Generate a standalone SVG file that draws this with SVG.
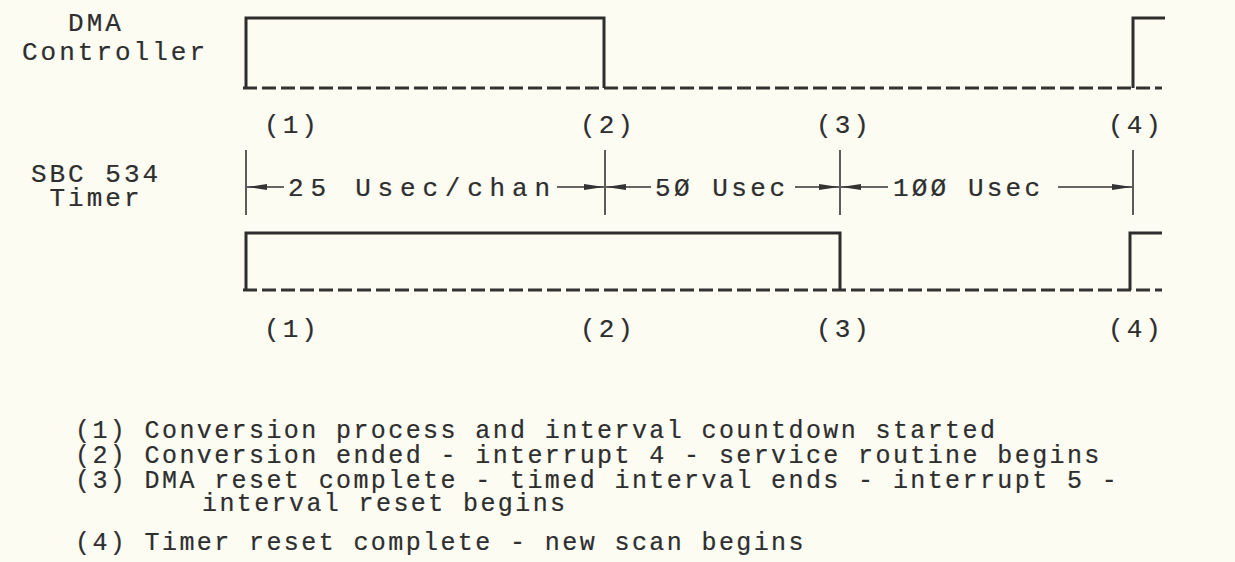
<svg xmlns="http://www.w3.org/2000/svg" width="1235" height="562" viewBox="0 0 1235 562">
<defs>
<style>
text{font-family:"Liberation Mono","DejaVu Sans Mono",monospace;fill:#2e2e2e;stroke:#2e2e2e;stroke-width:0.2}
.lbl{font-size:26px;letter-spacing:3px}
.leg{font-size:25px;letter-spacing:2.4px}
.sig{fill:none;stroke:#2e2e2e;stroke-width:3}
.base{fill:none;stroke:#333;stroke-width:3;stroke-dasharray:14 5}
.tick{stroke:#333;stroke-width:1.6}
.dim{stroke:#333;stroke-width:1.6;marker-end:url(#ah)}
</style>
<marker id="ah" markerUnits="userSpaceOnUse" markerWidth="22" markerHeight="8" refX="20" refY="4" orient="auto">
<path d="M0,1 L20,4 L0,7 Z" fill="#333"/>
</marker>
</defs>
<rect width="1235" height="562" fill="#fcfcf3"/>
<g id="dma">
<text class="lbl" x="96" y="31" text-anchor="middle">DMA</text>
<text class="lbl" x="115" y="60" text-anchor="middle">Controller</text>
<path class="base" d="M243,88 H1162"/>
<path class="sig" d="M246,88 V18 H604 V88"/>
<path class="sig" d="M1133,88 V18 H1165"/>
<text class="lbl" x="292" y="133" text-anchor="middle">(1)</text>
<text class="lbl" x="608" y="133" text-anchor="middle">(2)</text>
<text class="lbl" x="844" y="133" text-anchor="middle">(3)</text>
<text class="lbl" x="1136" y="133" text-anchor="middle">(4)</text>
</g>
<g id="timing">
<line class="tick" x1="246" y1="150" x2="246" y2="215"/>
<line class="tick" x1="605" y1="150" x2="605" y2="215"/>
<line class="tick" x1="840" y1="150" x2="840" y2="215"/>
<line class="tick" x1="1133" y1="150" x2="1133" y2="215"/>
</g>
<g id="connectors">
<line class="dim" x1="284" y1="187" x2="247" y2="187"/>
<line class="dim" x1="557" y1="187" x2="604" y2="187"/>
<line class="dim" x1="651" y1="187" x2="606" y2="187"/>
<line class="dim" x1="795" y1="187" x2="839" y2="187"/>
<line class="dim" x1="888" y1="187" x2="841" y2="187"/>
<line class="dim" x1="1058" y1="187" x2="1132" y2="187"/>
</g>
<g id="dim-labels">
<text class="lbl" x="288" y="196" textLength="265" lengthAdjust="spacing">25 Usec/chan</text>
<text class="lbl" x="655" y="196" textLength="133" lengthAdjust="spacing">5Ø Usec</text>
<text class="lbl" x="893" y="196" textLength="150" lengthAdjust="spacing">1ØØ Usec</text>
</g>
<g id="timer">
<text class="lbl" x="96" y="182" text-anchor="middle">SBC 534</text>
<text class="lbl" x="96" y="206" text-anchor="middle">Timer</text>
<path class="base" d="M243,290 H1162"/>
<path class="sig" d="M246,290 V233 H840 V290"/>
<path class="sig" d="M1130,290 V233 H1162"/>
<text class="lbl" x="292" y="337" text-anchor="middle">(1)</text>
<text class="lbl" x="608" y="337" text-anchor="middle">(2)</text>
<text class="lbl" x="844" y="337" text-anchor="middle">(3)</text>
<text class="lbl" x="1136" y="337" text-anchor="middle">(4)</text>
</g>
<g id="legend">
<text class="leg" x="75" y="438">(1) Conversion process and interval countdown started</text>
<text class="leg" x="75" y="463">(2) Conversion ended - interrupt 4 - service routine begins</text>
<text class="leg" x="75" y="488">(3) DMA reset complete - timed interval ends - interrupt 5 -</text>
<text class="leg" x="202" y="511">interval reset begins</text>
<text class="leg" x="75" y="550">(4) Timer reset complete - new scan begins</text>
</g>
</svg>
